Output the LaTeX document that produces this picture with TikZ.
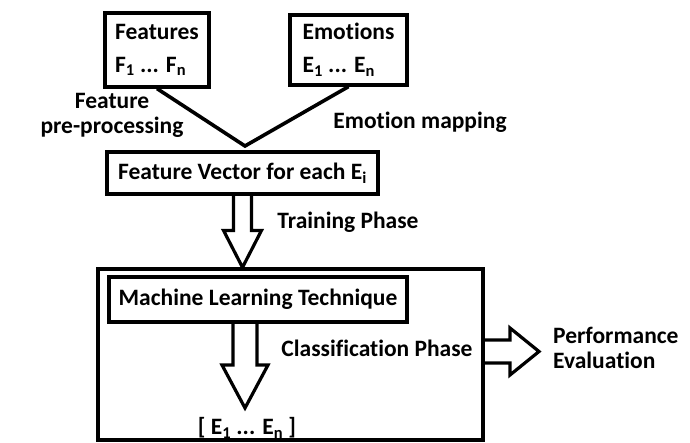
\documentclass[tikz,border=0pt]{standalone}
\usepackage{fontspec}
\setmainfont{Carlito}[Ligatures=NoCommon]
\usetikzlibrary{calc}

\tikzset{
  box/.style={draw,line width=3.2pt,inner sep=0pt,align=left,
    font=\bfseries\fontsize{23.5}{33}\selectfont},
  lbl/.style={inner sep=0pt,font=\bfseries\fontsize{23.5}{25}\selectfont},
  link/.style={line width=3.6pt},
  fat/.style={draw,line width=3.2pt,line join=miter},
}

% hollow block arrow: start, tip, shaft half width, head half width, head length
\newcommand\fatarrow[5]{%
  \path ($(#2)!#5!(#1)$) coordinate (hb);
  \draw[fat] ($(#1)!#3!90:(#2)$) -- ($(hb)!#3!-90:(#1)$) -- ($(hb)!#4!-90:(#1)$)
    -- (#2) -- ($(hb)!#4!90:(#1)$) -- ($(hb)!#3!90:(#1)$) -- ($(#1)!#3!-90:(#2)$);
}

\begin{document}
\begin{tikzpicture}[x=1pt,y=-1pt]
  \useasboundingbox (0,0) rectangle (690,442);

  % inputs
  \node[box,minimum width=104pt,minimum height=74pt] (feat) at (157,50)
    {Features\\F\textsubscript{1} ... F\textsubscript{n}};
  \node[box,minimum width=117pt,minimum height=70pt] (emo) at (348.5,50)
    {Emotions\\E\textsubscript{1} ... E\textsubscript{n}};
  \node[box,minimum width=271pt,minimum height=42pt] (fv) at (242.5,173)
    {Feature Vector for each E\textsubscript{i}};

  \coordinate (join) at (245,146);
  \draw[link] (feat.south) -- (join) -- (emo.south);
  \node[lbl,align=center] (prep) at (112,115.5) {Feature\\pre-processing};
  \node[lbl] (map) at (420,122) {Emotion mapping};

  % learning block
  \node[draw,line width=3.2pt,minimum width=385pt,minimum height=171pt] (mlframe) at (290.5,354.5) {};
  \node[box,minimum width=298pt,minimum height=45pt] (ml) at (258,299.5)
    {Machine Learning Technique};

  \coordinate (tr0) at (fv.south);
  \coordinate (tr1) at (fv.south |- mlframe.north);
  \fatarrow{tr0}{tr1}{9pt}{19pt}{37pt}
  \node[lbl] (train) at (348,222) {Training Phase};

  \coordinate (cl0) at (245,322);
  \coordinate (cl1) at (245,408);
  \fatarrow{cl0}{cl1}{12pt}{23pt}{43pt}
  \node[lbl] (cls) at (377,348) {Classification Phase};
  \node[lbl] (res) at (247,428) {[ E\textsubscript{1} ... E\textsubscript{n} ]};

  % evaluation
  \coordinate (pe0) at (mlframe.east |- 0,351.5);
  \coordinate (pe1) at (539,351.5);
  \fatarrow{pe0}{pe1}{11.5pt}{23.5pt}{29pt}
  \node[lbl,align=left,anchor=west] (perf) at (553,348) {Performance\\Evaluation};
\end{tikzpicture}
\end{document}
